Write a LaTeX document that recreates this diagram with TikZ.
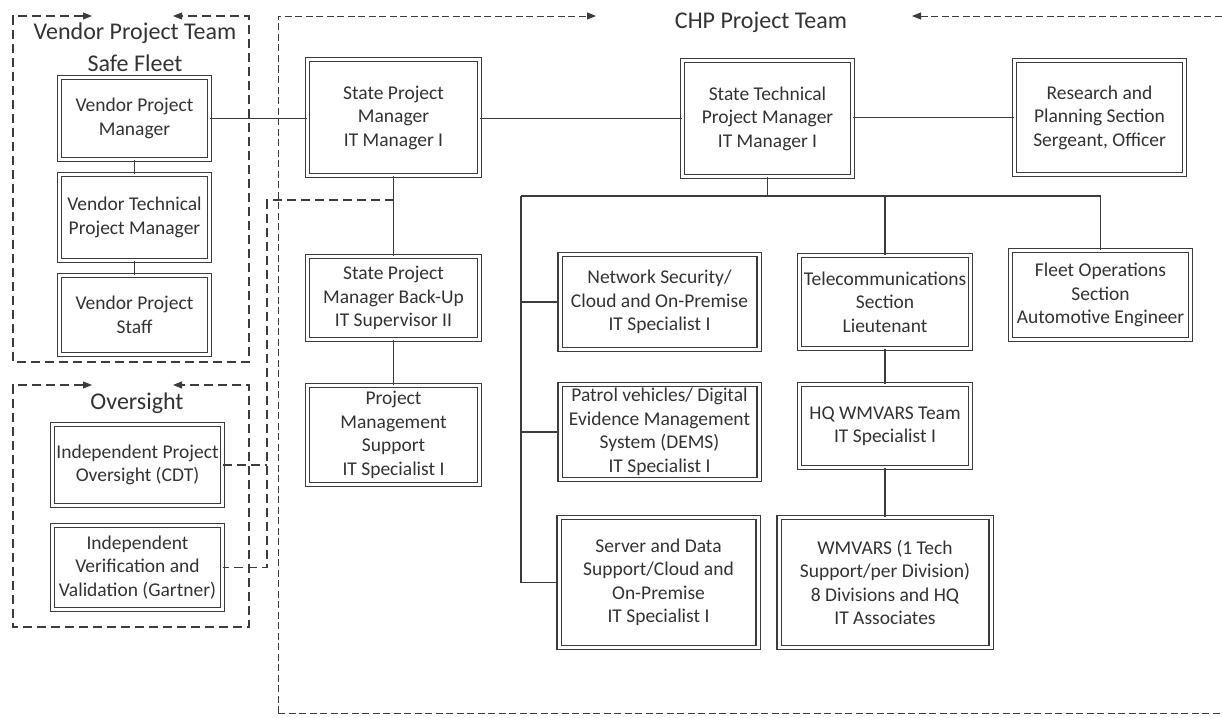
\documentclass[tikz,border=0pt]{standalone}
\usepackage{fontspec}
\setmainfont{Carlito}
\usetikzlibrary{arrows.meta}
\definecolor{ink}{HTML}{333333}
\definecolor{rule}{HTML}{3C3C3C}

\begin{document}
\begin{tikzpicture}[x=1pt,y=-1pt,
  every node/.style={text=ink, font=\fontsize{19.5}{23.5}\selectfont},
  box/.style={draw=rule, double=white, double distance=3pt, line width=1.1pt,
              rectangle, align=center, inner sep=0pt},
  head/.style={font=\fontsize{24}{28}\selectfont, inner sep=0pt},
  link/.style={draw=rule, line width=1.1pt},
  team/.style={draw=rule, line width=1.1pt, dash pattern=on 9pt off 5pt,
               {Triangle[length=9pt,width=7pt]}-{Triangle[length=9pt,width=7pt]}},
  chp/.style={draw=rule, line width=0.8pt, dash pattern=on 7pt off 3.5pt},
  rail/.style={draw=rule, line width=1.5pt, dash pattern=on 9pt off 5pt}]

\useasboundingbox[fill=white] (0,0) rectangle (1222,717);

% ---------- team frames ----------
\draw[team] (92,16) -- (13,16) -- (13,362) -- (249,362) -- (249,16) -- (173,16);
\draw[team] (92,385) -- (13,385) -- (13,627) -- (249,627) -- (249,385) -- (173,385);
\draw[chp, -{Triangle[length=9pt,width=7pt]}] (278,713) -- (278,16) -- (596,16);
\draw[chp] (278,713) -- (1222,713);
\draw[chp, {Triangle[length=9pt,width=7pt]}-] (912,16) -- (1222,16);

\node[head] (vteam) at (135,33) {Vendor Project Team};
\node[head] (vfleet) at (135,63) {Safe Fleet};
\node[head] (oteam) at (137,403) {Oversight};
\node[head] (cteam) at (761,22) {CHP Project Team};

% ---------- vendor ----------
\node[box, minimum width=150.5, minimum height=82.5] (vpm) at (134.5,118.5) {Vendor Project\\Manager};
\node[box, minimum width=150.5, minimum height=86.5] (vtpm) at (134.5,217.5) {Vendor Technical\\Project Manager};
\node[box, minimum width=150.5, minimum height=79.5] (vps) at (134.5,315) {Vendor Project\\Staff};

% ---------- oversight ----------
\node[box, minimum width=170.5, minimum height=81.5] (ipo) at (137.5,465) {Independent Project\\Oversight (CDT)};
\node[box, minimum width=170.5, minimum height=84.5] (ivv) at (137.5,567.5) {Independent\\Verification and\\Validation (Gartner)};

% ---------- state column ----------
\node[box, minimum width=172.5, minimum height=116.5] (spm) at (393.5,117.5) {State Project\\Manager\\IT Manager I};
\node[box, minimum width=172.5, minimum height=83.5] (bup) at (393.5,298) {State Project\\Manager Back-Up\\IT Supervisor II};
\node[box, minimum width=172.5, minimum height=99.5] (pms) at (393.5,435) {Project\\Management\\Support\\IT Specialist I};

% ---------- technical ----------
\node[box, minimum width=170.5, minimum height=116.5] (stpm) at (767.5,118.5) {State Technical\\Project Manager\\IT Manager I};
\node[box, minimum width=170.5, minimum height=114.5] (rps) at (1099.5,117.5) {Research and\\Planning Section\\Sergeant, Officer};

\node[box, minimum width=199, minimum height=95.5] (net) at (659.5,302) {Network Security/\\Cloud and On-Premise\\IT Specialist I};
\node[box, minimum width=199, minimum height=95.5] (pat) at (659.5,432) {Patrol vehicles/ Digital\\Evidence Management\\System (DEMS)\\IT Specialist I};
\node[box, minimum width=199, minimum height=129.5] (srv) at (658.5,582.5) {Server and Data\\Support/Cloud and\\On-Premise\\IT Specialist I};

\node[box, minimum width=171.5, minimum height=93.5] (tel) at (885,302) {Telecommunications\\Section\\Lieutenant};
\node[box, minimum width=171.5, minimum height=83.5] (hq) at (885,426) {HQ WMVARS Team\\IT Specialist I};
\node[box, minimum width=212, minimum height=129.5] (wmv) at (885,582.5) {WMVARS (1 Tech\\Support/per Division)\\8 Divisions and HQ\\IT Associates};

\node[box, minimum width=180.5, minimum height=89.5] (flt) at (1100.5,295) {Fleet Operations\\Section\\Automotive Engineer};

% ---------- solid connectors ----------
\draw[link] (vpm.east) -- (vpm.east -| spm.west);
\draw[link] (vpm) -- (vtpm);
\draw[link] (vtpm) -- (vps);
\draw[link] (spm.east |- stpm.west) -- (stpm.west);
\draw[link] (stpm.east |- rps.west) -- (rps.west);
\draw[link] (spm) -- (bup);
\draw[link] (bup) -- (pms);

\coordinate (bus) at (767.5,196);
\coordinate (spine) at (521,196);
\draw[link] (stpm.south) -- (bus);
\draw[link] (spine) -- (flt.north |- bus) -- (flt.north);
\draw[link] (tel.north |- bus) -- (tel.north);
\draw[link] (spine) |- (srv.west);
\draw[link] (net.west -| spine) -- (net.west);
\draw[link] (pat.west -| spine) -- (pat.west);
\draw[link] (tel) -- (hq);
\draw[link] (hq) -- (wmv);

% ---------- oversight reporting line ----------
\coordinate (tap) at (393.5,200);
\coordinate (rail) at (267,200);
\draw[rail] (tap) -- (rail) -- (rail |- ivv.east) -- (ivv.east);
\draw[rail] (ipo.east) -- (ipo.east -| rail);
\end{tikzpicture}
\end{document}
